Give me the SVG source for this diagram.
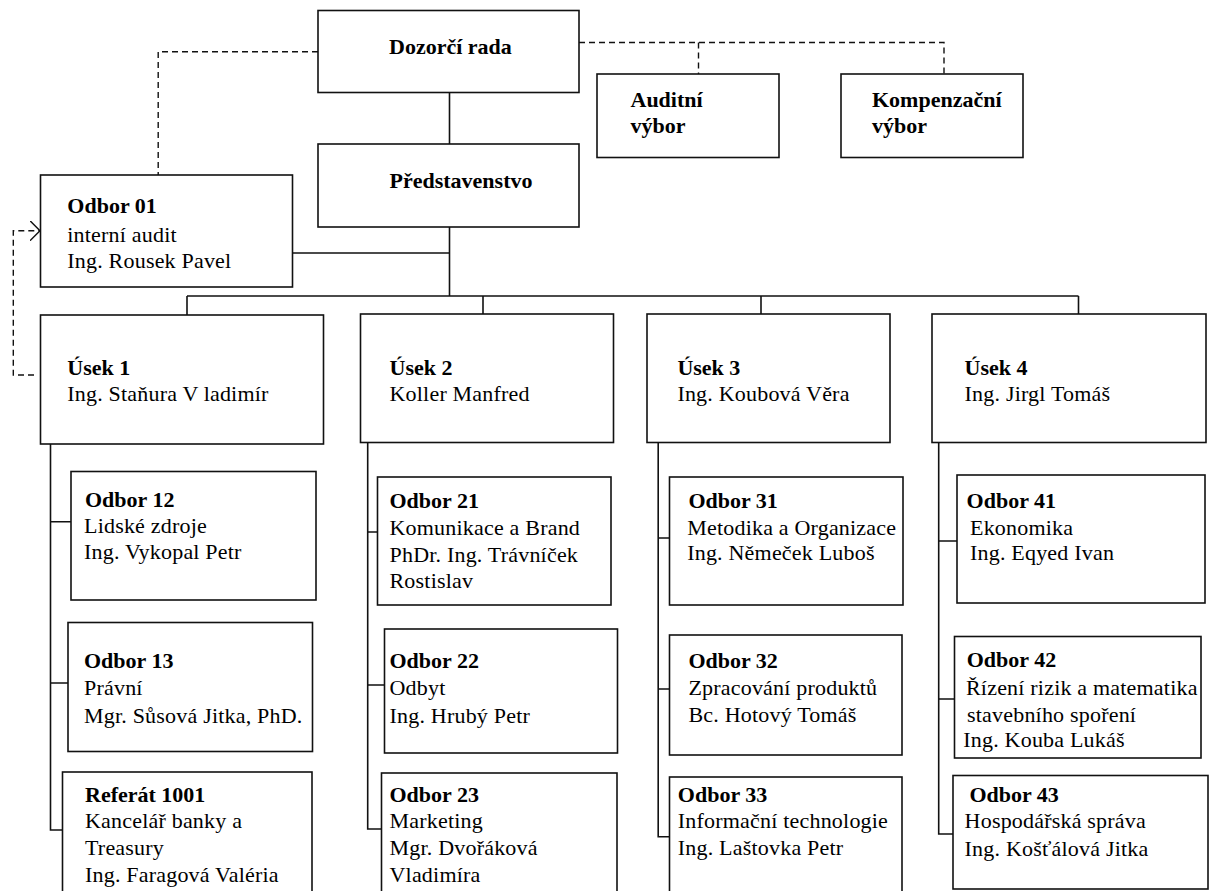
<svg xmlns="http://www.w3.org/2000/svg" width="1216" height="891" viewBox="0 0 1216 891">
<style>
.box{fill:#fff;stroke:#111;stroke-width:1.6}
.ln{fill:none;stroke:#111;stroke-width:1.6}
.dl{fill:none;stroke:#111;stroke-width:1.4;stroke-dasharray:6,4}
text{font-family:"Liberation Serif","Times New Roman",serif;font-size:22px;fill:#000}
.b{font-weight:bold}
.r{letter-spacing:0.2px}
</style>
<defs>
<marker id="open" viewBox="0 0 10 20" refX="10" refY="10" markerWidth="10" markerHeight="20" markerUnits="userSpaceOnUse" orient="auto">
<path d="M0,0 L10,10 L0,20" fill="none" stroke="#111" stroke-width="1.4"/>
</marker>
</defs>
<rect width="1216" height="891" fill="#fff"/>
<g id="connectors">
<path class="ln" d="M449.5,92.5 V144 M449.5,227 V296 M292.5,253 H449.5 M187,296 H1078.5 M187,296 V315 M483,296 V314 M761,296 V314 M1078.5,296 V314"/>
<path class="ln" d="M50.5,444 V830 H62.5 M50.5,521.7 H71 M50.5,683 H68"/>
<path class="ln" d="M367.7,442.5 V829 H381.5 M367.7,532 H377.5 M367.7,685 H384.5"/>
<path class="ln" d="M658.2,442.5 V836.7 H669.5 M658.2,538 H669.5 M658.2,689 H669.5"/>
<path class="ln" d="M938.7,442.5 V834 H953 M938.7,541 H957 M938.7,699 H954.5"/>
<path class="dl" d="M318,51.7 H158.2 V175"/>
<path class="dl" d="M579,42.5 H944 V74 M698.5,42.5 V74"/>
<path class="dl" d="M34,375 H13.3 V230.7 H40" marker-end="url(#open)"/>
</g>
<g id="dozorci_rada"><rect class="box" x="318" y="10.5" width="261" height="82"/><text class="b" x="389" y="54">Dozorčí rada</text></g>
<g id="auditni_vybor"><rect class="box" x="597" y="74" width="182" height="83.5"/><text class="b" x="630.5" y="107.3">Auditní</text><text class="b" x="630.5" y="133.3">výbor</text></g>
<g id="kompenzacni_vybor"><rect class="box" x="841" y="74" width="182" height="83.5"/><text class="b" x="872" y="107.3">Kompenzační</text><text class="b" x="872" y="133.3">výbor</text></g>
<g id="predstavenstvo"><rect class="box" x="318" y="144" width="261" height="83"/><text class="b" x="389.5" y="188.3">Představenstvo</text></g>
<g id="odbor01"><rect class="box" x="40.5" y="175" width="252" height="112"/><text class="b" x="67.3" y="213.3">Odbor 01</text><text class="r" x="67.3" y="241.7">interní audit</text><text class="r" x="67.3" y="268.3">Ing. Rousek Pavel</text></g>
<g id="usek1"><rect class="box" x="40.5" y="315" width="283" height="129"/><text class="b" x="67.3" y="375">Úsek 1</text><text class="r" x="67.3" y="401">Ing. Staňura V<tspan dx="5">ladimír</tspan></text></g>
<g id="usek2"><rect class="box" x="360.5" y="314" width="253" height="128.5"/><text class="b" x="389.5" y="375">Úsek 2</text><text class="r" x="389.5" y="401">Koller Manfred</text></g>
<g id="usek3"><rect class="box" x="647" y="314" width="243" height="128.5"/><text class="b" x="677.4" y="375">Úsek 3</text><text class="r" x="677.4" y="401">Ing. Koubová Věra</text></g>
<g id="usek4"><rect class="box" x="932" y="314" width="274" height="128.5"/><text class="b" x="964.6" y="375">Úsek 4</text><text class="r" x="964.6" y="401">Ing. Jirgl Tomáš</text></g>
<g id="odbor12"><rect class="box" x="71" y="471.5" width="245" height="128.5"/><text class="b" x="85" y="507">Odbor 12</text><text class="r" x="84" y="533">Lidské zdroje</text><text class="r" x="84" y="559">Ing. Vykopal Petr</text></g>
<g id="odbor13"><rect class="box" x="68" y="622.5" width="244.5" height="129"/><text class="b" x="84" y="668">Odbor 13</text><text class="r" x="84" y="695">Právní</text><text class="r" x="84" y="722.7">Mgr. Sůsová Jitka, PhD.</text></g>
<g id="referat1001"><rect class="box" x="62.5" y="772" width="249.5" height="130"/><text class="b" x="85" y="801.7">Referát 1001</text><text class="r" x="85" y="828">Kancelář banky a</text><text class="r" x="85" y="855">Treasury</text><text class="r" x="85" y="881.7">Ing. Faragová Valéria</text></g>
<g id="odbor21"><rect class="box" x="377.5" y="477" width="233.5" height="128"/><text class="b" x="389.5" y="508">Odbor 21</text><text class="r" x="389.5" y="535">Komunikace a Brand</text><text class="r" x="389.5" y="562">PhDr. Ing. Trávníček</text><text class="r" x="389.5" y="588">Rostislav</text></g>
<g id="odbor22"><rect class="box" x="384.5" y="629" width="233" height="124"/><text class="b" x="389.5" y="668">Odbor 22</text><text class="r" x="389.5" y="695">Odbyt</text><text class="r" x="389.5" y="722.7">Ing. Hrubý Petr</text></g>
<g id="odbor23"><rect class="box" x="381.5" y="773" width="235.5" height="130"/><text class="b" x="389.5" y="802">Odbor 23</text><text class="r" x="389.5" y="828">Marketing</text><text class="r" x="389.5" y="855">Mgr. Dvořáková</text><text class="r" x="389.5" y="882">Vladimíra</text></g>
<g id="odbor31"><rect class="box" x="669.5" y="477" width="233.5" height="128"/><text class="b" x="688.4" y="508">Odbor 31</text><text class="r" x="687.2" y="535">Metodika a Organizace</text><text class="r" x="687.2" y="560">Ing. Němeček Luboš</text></g>
<g id="odbor32"><rect class="box" x="669.5" y="635" width="232.5" height="120"/><text class="b" x="688.4" y="668.3">Odbor 32</text><text class="r" x="688.4" y="695">Zpracování produktů</text><text class="r" x="688.4" y="721.7">Bc. Hotový Tomáš</text></g>
<g id="odbor33"><rect class="box" x="669.5" y="777" width="232.5" height="126"/><text class="b" x="677.8" y="801.7">Odbor 33</text><text class="r" x="677.8" y="828">Informační technologie</text><text class="r" x="677.8" y="855">Ing. Laštovka Petr</text></g>
<g id="odbor41"><rect class="box" x="957" y="475" width="248" height="128"/><text class="b" x="966.6" y="508">Odbor 41</text><text class="r" x="970" y="535">Ekonomika</text><text class="r" x="970" y="560">Ing. Eqyed Ivan</text></g>
<g id="odbor42"><rect class="box" x="954.5" y="636.5" width="246.5" height="121.5"/><text class="b" x="966.7" y="666.7">Odbor 42</text><text class="r" x="966" y="695">Řízení rizik a matematika</text><text class="r" x="967" y="721.7">stavebního spoření</text><text class="r" x="963.3" y="746.7">Ing. Kouba Lukáš</text></g>
<g id="odbor43"><rect class="box" x="953" y="775.5" width="255" height="113.5"/><text class="b" x="969.4" y="801.7">Odbor 43</text><text class="r" x="964.6" y="828">Hospodářská správa</text><text class="r" x="964.6" y="856">Ing. Košťálová Jitka</text></g>
</svg>
